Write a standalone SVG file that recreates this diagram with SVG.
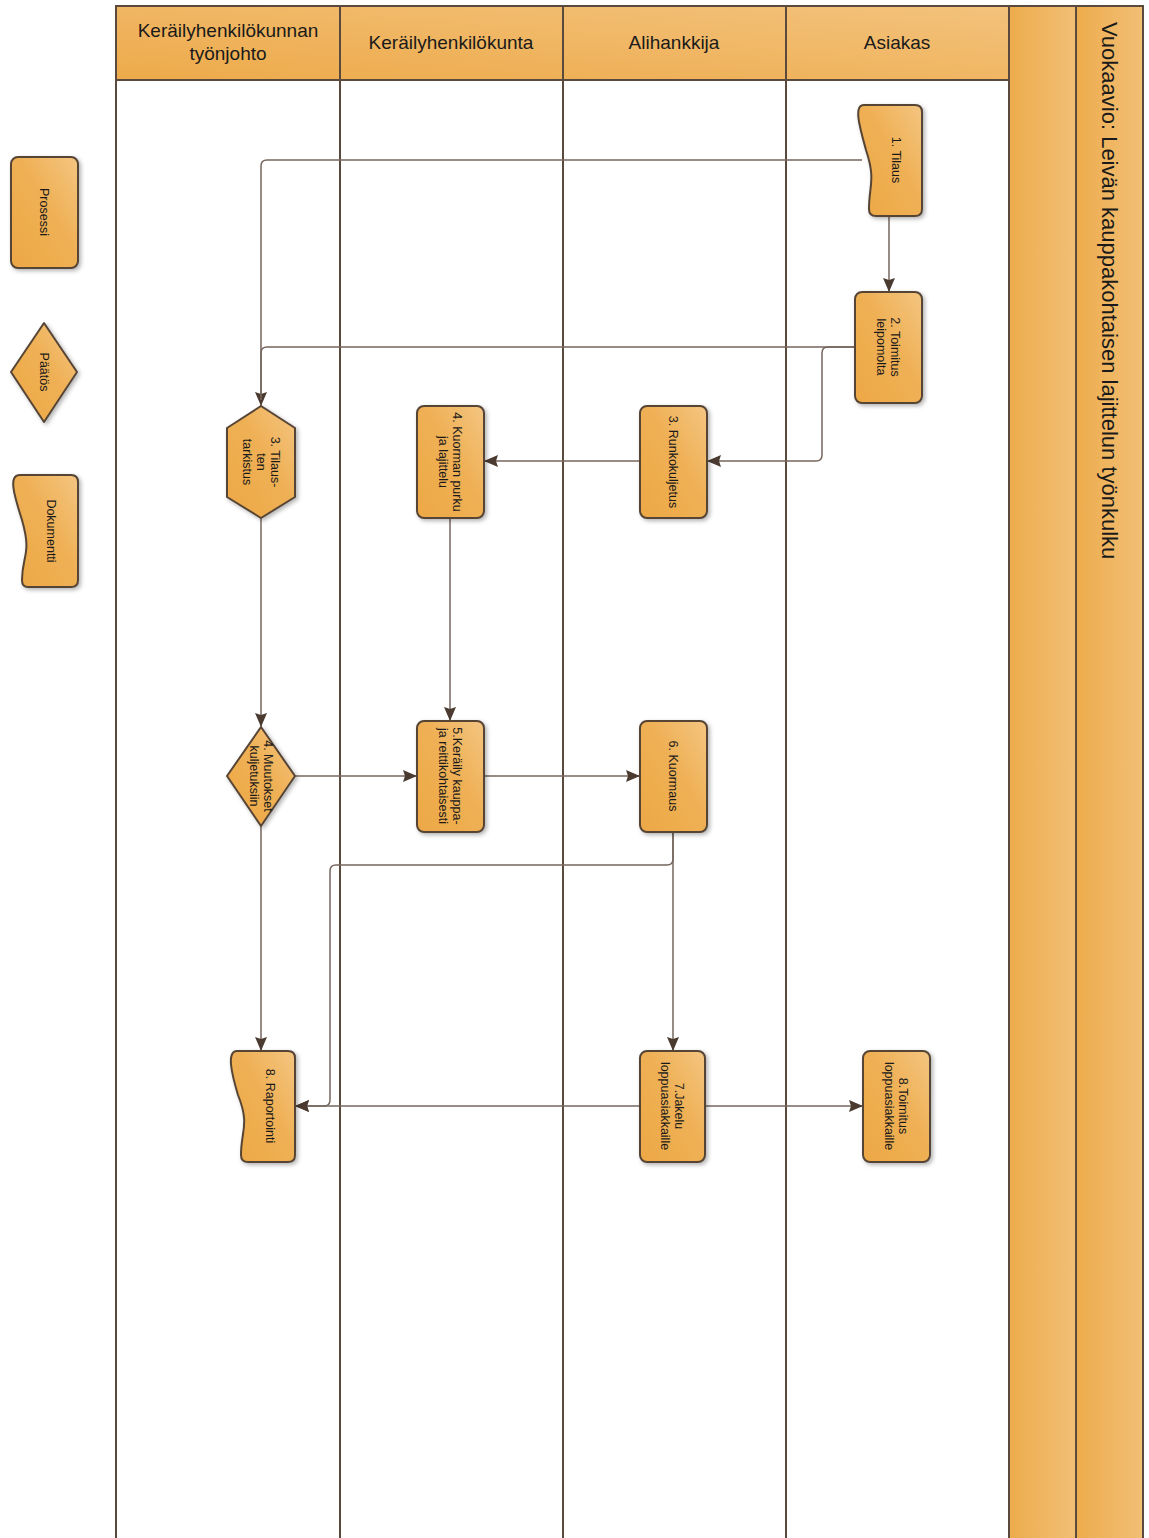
<svg xmlns="http://www.w3.org/2000/svg" width="1149" height="1538" viewBox="0 0 1149 1538">
<defs>
<linearGradient id="og" x1="0" y1="1" x2="1" y2="0">
<stop offset="0" stop-color="#EDA845"/>
<stop offset="0.55" stop-color="#EFB055"/>
<stop offset="1" stop-color="#F4C581"/>
</linearGradient>
<linearGradient id="hg" x1="0" y1="1" x2="1" y2="0">
<stop offset="0" stop-color="#EDAA4A"/>
<stop offset="1" stop-color="#F3C27C"/>
</linearGradient>
<linearGradient id="vg" x1="0" y1="0" x2="1" y2="0">
<stop offset="0" stop-color="#EDAC4C"/>
<stop offset="1" stop-color="#F2BF76"/>
</linearGradient>
<filter id="sh" x="-20%" y="-20%" width="150%" height="150%">
<feDropShadow dx="2" dy="2" stdDeviation="2" flood-color="#000" flood-opacity="0.3"/>
</filter>
<marker id="arr" viewBox="0 0 14 12" refX="14" refY="6" markerWidth="14" markerHeight="12" orient="auto" markerUnits="userSpaceOnUse">
<path d="M0,0 L14,6 L0,12 L2,6 z" fill="#4a3a30"/>
</marker>
</defs>
<style>
.node{fill:url(#og);stroke:#574536;stroke-width:2;filter:url(#sh);stroke-linejoin:round}
.t{font-family:"Liberation Sans",Arial,sans-serif;font-size:12.5px;fill:#1a1a1a;text-anchor:middle}
.h{font-family:"Liberation Sans",Arial,sans-serif;font-size:19px;fill:#1a1a1a;text-anchor:middle}
.lane{stroke:#5a4a3e;stroke-width:2;fill:none}
.c{stroke:#76665e;stroke-width:1.5;fill:none}
.ca{stroke:#76665e;stroke-width:1.5;fill:none;marker-end:url(#arr)}
</style>
<rect width="1149" height="1538" fill="#fff"/>
<g id="pool">
<rect x="116" y="6" width="893" height="74" fill="url(#hg)"/>
<rect x="1009" y="6" width="67" height="1540" fill="url(#vg)"/>
<rect x="1076" y="6" width="67" height="1540" fill="url(#vg)"/>
<path class="lane" d="M116,1540 V6 H1143 V1540 M340,6 V1540 M563,6 V1540 M786,6 V1540 M1009,6 V1540 M1076,6 V1540 M116,80 H1009"/>
<text class="h" x="228" y="37">Keräilyhenkilökunnan</text>
<text class="h" x="228" y="60">työnjohto</text>
<text class="h" x="451" y="49">Keräilyhenkilökunta</text>
<text class="h" x="674" y="49">Alihankkija</text>
<text class="h" x="897" y="49">Asiakas</text>
<text font-family="Liberation Sans,Arial,sans-serif" font-size="22" fill="#1a1a1a" transform="translate(1102,22) rotate(90)">Vuokaavio: Leivän kauppakohtaisen lajittelun työnkulku</text>
</g>
<g id="connectors">
<path class="ca" d="M862,160 H267 Q261,160 261,166 V406"/>
<path class="c" d="M855,347 H267 Q261,347 261,353 V400"/>
<path class="ca" d="M889,216 V292"/>
<path class="ca" d="M855,347 H828 Q822,347 822,353 V455 Q822,461 816,461 H707"/>
<path class="ca" d="M640,461 H484"/>
<path class="ca" d="M450,518 V721"/>
<path class="ca" d="M261,518 V727"/>
<path class="ca" d="M295,776 H417"/>
<path class="ca" d="M484,776 H640"/>
<path class="ca" d="M673,832 V1051"/>
<path class="ca" d="M673,832 V859 Q673,865 667,865 H336 Q330,865 330,871 V1100 Q330,1106 324,1106 H295"/>
<path class="ca" d="M640,1106 H295"/>
<path class="ca" d="M261,826 V1051"/>
<path class="ca" d="M705,1106 H863"/>
</g>
<g id="legend-prosessi">
<rect class="node" x="11" y="157" width="67" height="111" rx="7"/>
<text class="t" font-size="12" transform="translate(44,212) rotate(90)" dy="4">Prosessi</text>
</g>
<g id="legend-paatos">
<path class="node" d="M44,323 L77,372 L44,422 L11,372 Z"/>
<text class="t" font-size="12" transform="translate(44,372) rotate(90)" dy="4">Päätös</text>
</g>
<g id="legend-dokumentti">
<path class="node" d="M20,475 H71 Q78,475 78,482 V580 Q78,587 71,587 H28 Q22,587 22,580 C22,555 32,555 22,520 C14,495 8,475 20,475 Z"/>
<text class="t" font-size="12" transform="translate(51,531) rotate(90)" dy="4">Dokumentti</text>
</g>
<g id="n1-tilaus">
<path class="node" d="M864,105 H915 Q922,105 922,112 V209 Q922,216 915,216 H876 Q869,216 869,209 C869,185 876,180 866,150 C860,128 853,105 864,105 Z"/>
<text class="t" transform="translate(896,160) rotate(90)" dy="4">1. Tilaus</text>
</g>
<g id="n2-toimitus-leipomolta">
<rect class="node" x="855" y="292" width="67" height="111" rx="7"/>
<text class="t" transform="translate(888,347) rotate(90)"><tspan x="0" dy="-3">2. Toimitus</tspan><tspan x="0" dy="14">leipomolta</tspan></text>
</g>
<g id="n3-runkokuljetus">
<rect class="node" x="640" y="406" width="67" height="112" rx="7"/>
<text class="t" transform="translate(673,462) rotate(90)" dy="4">3. Runkokuljetus</text>
</g>
<g id="n4-kuorman-purku">
<rect class="node" x="417" y="406" width="67" height="112" rx="7"/>
<text class="t" transform="translate(450,462) rotate(90)"><tspan x="0" dy="-3">4. Kuorman purku</tspan><tspan x="0" dy="14">ja lajittelu</tspan></text>
</g>
<g id="n3-tilausten-tarkistus">
<path class="node" d="M261,406 L295,428 V497 L261,518 L227,497 V428 Z"/>
<text class="t" transform="translate(261,462) rotate(90)"><tspan x="0" dy="-10">3. Tilaus-</tspan><tspan x="0" dy="14">ten</tspan><tspan x="0" dy="14">tarkistus</tspan></text>
</g>
<g id="d4-muutokset">
<path class="node" d="M261,727 L295,776 L261,826 L227,776 Z"/>
<text class="t" transform="translate(261,776) rotate(90)"><tspan x="0" dy="-3">4. Muutokset</tspan><tspan x="0" dy="14">kuljetuksiin</tspan></text>
</g>
<g id="n5-keraily">
<rect class="node" x="417" y="721" width="67" height="111" rx="7"/>
<text class="t" transform="translate(450,776) rotate(90)"><tspan x="0" dy="-3">5.Keräily kauppa-</tspan><tspan x="0" dy="14">ja reittikohtaisesti</tspan></text>
</g>
<g id="n6-kuormaus">
<rect class="node" x="640" y="721" width="67" height="111" rx="7"/>
<text class="t" transform="translate(673,776) rotate(90)" dy="4">6. Kuormaus</text>
</g>
<g id="n8-raportointi">
<path class="node" d="M237,1051 H288 Q295,1051 295,1058 V1155 Q295,1162 288,1162 H248 Q241,1162 241,1155 C241,1130 250,1125 238,1095 C232,1075 226,1051 237,1051 Z"/>
<text class="t" transform="translate(270,1106) rotate(90)" dy="4">8. Raportointi</text>
</g>
<g id="n7-jakelu">
<rect class="node" x="640" y="1051" width="65" height="111" rx="7"/>
<text class="t" transform="translate(672,1106) rotate(90)"><tspan x="0" dy="-3">7.Jakelu</tspan><tspan x="0" dy="14">loppuasiakkaille</tspan></text>
</g>
<g id="n8-toimitus-loppuasiakkaille">
<rect class="node" x="863" y="1051" width="67" height="111" rx="7"/>
<text class="t" transform="translate(896,1106) rotate(90)"><tspan x="0" dy="-3">8.Toimitus</tspan><tspan x="0" dy="14">loppuasiakkaille</tspan></text>
</g>
</svg>
